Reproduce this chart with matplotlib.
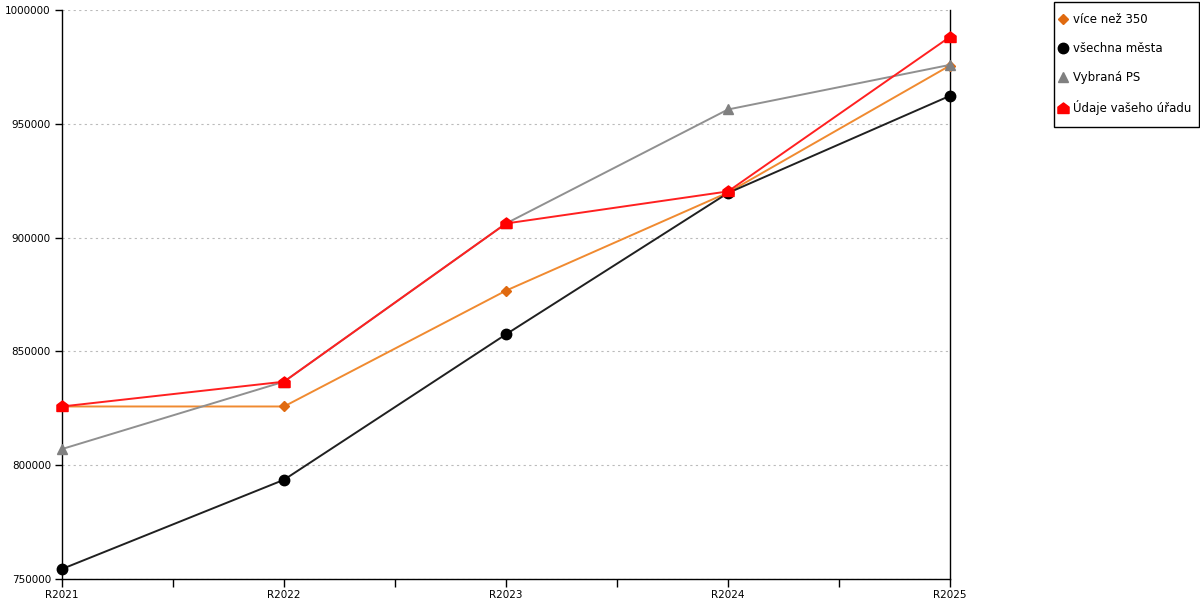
import matplotlib.pyplot as plt
from matplotlib.path import Path
from matplotlib.patches import Rectangle
from matplotlib.ticker import MultipleLocator, StrMethodFormatter

# data
years = ['R2021', 'R2022', 'R2023', 'R2024', 'R2025']
vice_nez_350 = [825800, 825800, 876700, 919800, 975600]
vsechna_mesta = [754400, 793600, 857500, 919600, 962300]
vybrana_ps = [807100, 836700, 906200, 956300, 975900]
udaje_uradu = [825800, 836700, 906200, 920300, 988200]

# house shaped marker like the original
house = Path([(-1, -0.9), (1, -0.9), (1, 0.25), (0, 1), (-1, 0.25), (-1, -0.9)],
             [Path.MOVETO, Path.LINETO, Path.LINETO, Path.LINETO, Path.LINETO, Path.CLOSEPOLY])

plt.rcParams['font.family'] = ['DejaVu Sans']
plt.rcParams['font.size'] = 8

fig = plt.figure(figsize=(12, 6), dpi=100)
ax = fig.add_axes([62 / 1200, 21 / 600, 888 / 1200, 569 / 600])

x = list(range(len(years)))
series = [
    (vice_nez_350, 'více než 350', '#f08a30', '#e06a10', 'D', 5.5),
    (vsechna_mesta, 'všechna města', '#202020', '#000000', 'o', 7.5),
    (vybrana_ps, 'Vybraná PS', '#909090', '#808080', '^', 7.5),
    (udaje_uradu, 'Údaje vašeho úřadu', '#ff2020', '#ff0000', house, 8),
]
for vals, label, lc, mc, mk, ms in series:
    ax.plot(x, vals, color=lc, lw=1.4, marker=mk, markersize=ms,
            markerfacecolor=mc, markeredgecolor=mc, label=label, clip_on=False, zorder=3)

ax.set_xlim(0, len(years) - 1)
ax.set_ylim(750000, 1000000)
ax.set_xticks(x)
ax.set_xticklabels(years)
ax.xaxis.set_minor_locator(MultipleLocator(0.5))
ax.yaxis.set_major_locator(MultipleLocator(50000))
ax.yaxis.set_major_formatter(StrMethodFormatter('{x:.0f}'))
ax.tick_params(axis='x', which='both', length=6, width=1, pad=2, labelsize=7.5)
ax.tick_params(axis='y', length=5, width=1, pad=3, labelsize=7.5)
ax.grid(axis='y', color='#bbbbbb', linestyle=(0, (2, 3)), lw=0.8)
ax.set_axisbelow(True)

ax.spines['top'].set_visible(False)
for s in ['left', 'bottom', 'right']:
    ax.spines[s].set_color('black')
    ax.spines[s].set_linewidth(1)

# legend without its own frame, box drawn separately to match the original
leg = fig.legend(loc='upper left', bbox_to_anchor=(1059 / 1200, 587 / 600),
                 frameon=False, fontsize=8.5, labelspacing=1.35,
                 handlelength=0.6, handletextpad=0.55, borderpad=0, borderaxespad=0)
for h in leg.legend_handles:
    h.set_linestyle('None')
fig.patches.append(Rectangle((1054 / 1200, 473 / 600), 145 / 1200, 125 / 600,
                             transform=fig.transFigure, fill=False, ec='black', lw=1))

fig.savefig('out.png', dpi=100)
